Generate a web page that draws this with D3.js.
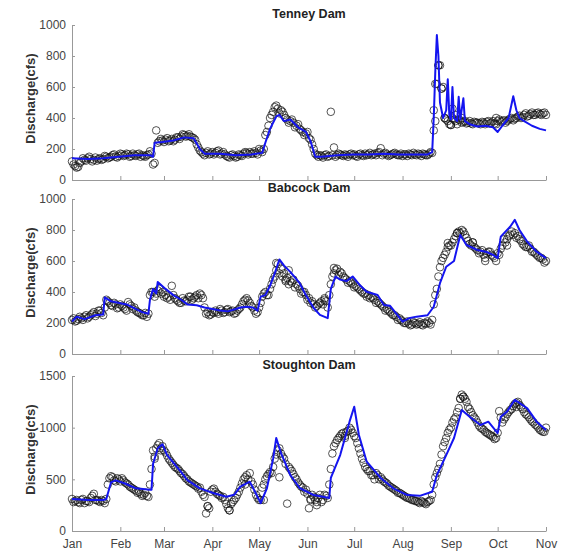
<!DOCTYPE html>
<html>
<head>
<meta charset="utf-8">
<script src="https://cdn.jsdelivr.net/npm/d3@7"></script>
<style>
  body { margin: 0; background: #fff; }
  svg { font-family: Arial, "Liberation Sans", sans-serif; }
  .axis path, .axis line { stroke: #999; }
  .axis text { fill: #444; font-size: 12px; }
</style>
</head>
<body>
<div id="chart"></div>
<script>
// observed discharge: even days (0,2,4..) and odd days (1,3,5..) from Jan 1
const tenneyObs = [120,90,85,120,130,140,135,130,125,140,135,150,145,160,150,155,165,160,165,155,160,165,150,155,160,185,100,320,250,255,260,250,265,260,275,280,290,285,280,270,230,190,170,175,165,180,175,190,170,165,150,160,155,150,160,170,175,180,170,175,200,180,290,350,420,470,460,450,420,390,380,370,350,330,310,300,270,230,170,150,155,160,150,440,210,160,165,155,160,165,160,155,165,160,170,165,160,170,175,205,170,165,160,170,165,160,155,165,170,160,165,170,155,165,160,180,320,620,740,600,390,360,400,380,390,370,380,370,365,375,370,360,370,375,365,380,360,390,380,370,390,400,395,410,400,420,410,425,420,430,425,430,420]
const tenneyObsOdd = [100,80,110,140,125,150,120,145,135,130,
  155,140,150,165,145,170,155,170,150,170,
  155,170,160,150,165,170,110,240,265,245,
  270,255,250,275,265,295,280,295,275,260,
  210,180,160,185,170,165,185,165,180,155,
  145,165,145,165,155,180,165,170,185,165,
  190,200,310,400,440,480,430,440,400,370,
  390,340,360,320,290,310,260,200,160,160,
  145,165,155,160,150,170,160,165,150,170,
  165,150,170,155,160,175,165,160,180,160,
  175,155,165,175,160,170,165,155,165,175,
  160,165,170,160,170,175,380,740,590,400,
  380,355,390,360,385,375,365,380,360,370,
  365,375,360,380,370,365,380,375,385,380,
  395,385,400,415,405,430,415,435,420,435,
  420,435]
const tenneyExtra = [[232,450],[233,620],[235,740],[237,590],[239,400],[243,355],[244,460],[246,420],[250,400],[272,400]]
const tenneySim = [[0,140],[10,135],[20,140],[30,150],[40,160],[50,160],[52,150],[53,240],[58,245],[65,255],[72,275],[78,270],[82,200],[85,170],[95,170],[105,160],[115,165],[122,175],[124,240],[127,330],[131,410],[133,420],[136,380],[140,390],[145,340],[150,310],[153,250],[156,150],[160,150],[170,160],[180,165],[190,165],[200,170],[210,165],[220,165],[228,165],[231,180],[232,400],[233,700],[234,935],[235,800],[236,500],[238,400],[240,450],[241,650],[242,420],[243,390],[244,600],[245,400],[247,380],[248,537],[249,390],[251,527],[252,380],[255,360],[260,345],[265,350],[270,340],[273,310],[276,350],[280,400],[283,540],[285,450],[287,400],[290,380],[295,350],[300,330],[304,320]]

const babcockObs = [220,210,225,230,240,230,250,270,260,280,250,350,330,310,320,300,310,290,335,310,300,270,260,250,240,380,400,390,420,400,380,370,440,360,340,330,345,350,370,360,380,390,360,260,250,270,280,260,280,270,290,275,260,280,300,340,360,330,300,260,300,370,400,380,450,500,580,550,520,490,470,480,450,420,400,380,360,340,300,320,340,360,300,450,520,550,530,500,480,470,450,440,420,400,390,380,370,350,340,320,300,290,270,250,240,230,210,200,195,190,200,195,190,200,210,190,320,420,560,620,660,700,720,760,790,800,770,730,700,690,670,660,640,650,660,630,600,640,700,720,760,790,780,760,730,700,690,680,660,640,620,610,600]
const babcockObsOdd = [230,215,240,220,250,240,260,245,280,265,
  300,340,315,330,295,320,300,280,320,290,
  280,265,250,265,260,400,370,410,390,370,
  360,350,380,350,330,360,340,370,350,370,
  360,380,300,270,255,265,270,290,265,285,
  270,280,265,290,320,350,345,310,280,270,
  330,390,380,420,480,540,520,500,470,450,
  460,430,440,390,400,350,330,320,310,330,
  320,340,380,500,540,510,520,490,460,460,
  430,430,410,390,370,360,360,330,330,310,
  280,280,260,250,220,220,200,210,185,205,
  190,205,185,195,200,220,380,500,600,640,
  690,700,740,780,780,790,750,710,720,680,
  650,670,620,660,640,620,650,680,740,740,
  770,770,750,740,710,690,700,660,650,630,
  620,590]
const babcockExtra = [[131,587],[137,480],[139,540],[162,350],[168,555],[241,716],[247,780],[257,720],[265,600],[279,700]]
const babcockSim = [[0,210],[3,240],[8,225],[15,250],[20,255],[21,365],[25,340],[35,320],[45,270],[49,260],[50,350],[52,420],[54,390],[55,465],[60,420],[65,380],[70,350],[74,320],[80,315],[85,300],[90,290],[95,280],[100,275],[105,290],[108,300],[112,305],[116,300],[119,280],[121,370],[124,380],[127,440],[130,520],[133,610],[136,570],[140,530],[146,457],[150,380],[155,297],[159,252],[164,231],[166,420],[169,499],[172,480],[176,470],[180,500],[185,440],[189,402],[196,381],[200,316],[204,311],[208,260],[212,209],[216,230],[221,241],[228,250],[232,305],[236,457],[240,563],[245,600],[249,768],[253,703],[260,671],[266,658],[270,639],[273,619],[275,757],[281,821],[284,865],[287,800],[292,724],[298,660],[304,619]]

const stoughtonObs = [310,290,280,300,270,290,320,360,300,280,290,310,510,520,480,500,510,470,450,420,400,370,360,350,340,450,780,800,850,820,760,700,660,620,600,560,530,500,470,450,430,420,350,170,220,400,380,350,320,300,220,260,300,350,420,500,540,560,450,350,300,420,500,550,560,700,780,750,700,265,600,550,500,450,420,400,220,350,300,320,280,350,320,600,820,880,920,950,960,1000,950,900,800,700,620,580,540,500,540,520,480,460,430,410,390,370,350,330,320,300,290,280,290,270,280,300,450,560,650,820,900,980,1050,1100,1190,1320,1280,1200,1150,1100,1050,1000,980,950,930,910,900,1160,1050,1100,1150,1180,1230,1250,1200,1150,1120,1080,1050,1020,980,960,1000]
const stoughtonObsOdd = [280,300,270,310,290,280,340,300,290,300,
  270,450,530,490,510,480,490,460,430,410,
  390,380,340,370,330,600,720,830,800,780,
  730,680,640,610,580,550,510,480,460,440,
  410,380,330,240,380,410,360,340,330,260,
  200,280,320,380,460,520,500,480,400,320,
  300,450,530,570,620,740,800,720,650,620,
  580,520,470,430,380,360,310,330,280,350,
  300,340,450,750,850,900,940,920,970,980,
  920,850,750,660,600,580,540,560,500,500,
  470,440,420,400,370,360,340,320,310,300,
  290,270,280,260,290,350,520,600,740,860,
  950,1000,1080,1150,1280,1300,1250,1180,1120,1080,
  1020,990,960,940,920,890,950,1100,1080,1130,
  1170,1210,1240,1220,1180,1130,1100,1060,1030,1000,
  970,960]
const stoughtonExtra = [[53,700],[57,780],[87,240],[101,200],[111,450],[123,300],[133,520],[153,300],[157,250],[175,900],[249,1280],[251,1300],[285,1200]]
const stoughtonSim = [[0,310],[10,300],[20,300],[22,310],[25,470],[28,490],[34,460],[41,413],[50,400],[51,400],[52,650],[55,800],[58,840],[61,735],[69,590],[74,493],[82,413],[91,365],[99,332],[104,350],[108,429],[114,477],[116,420],[121,271],[125,413],[129,700],[131,900],[134,755],[140,542],[146,416],[155,348],[165,319],[166,513],[172,735],[178,1058],[181,1203],[184,929],[189,671],[198,513],[206,413],[215,348],[223,340],[231,380],[234,542],[240,735],[245,900],[250,1171],[255,1106],[262,1026],[267,1058],[273,948],[275,1106],[279,1155],[284,1270],[292,1187],[298,1058],[304,977]]

const titles = ['Tenney Dam', 'Babcock Dam', 'Stoughton Dam']
const yMax = [1000, 1000, 1500]
const yTicks = [[0,200,400,600,800,1000],[0,200,400,600,800,1000],[0,500,1000,1500]]

const width = 569
const height = 551
const left = 72
const right = 546
const panels = [
  { top: 25, bottom: 180, obs: tenneyObs, odd: tenneyObsOdd, extra: tenneyExtra, sim: tenneySim },
  { top: 199, bottom: 354, obs: babcockObs, odd: babcockObsOdd, extra: babcockExtra, sim: babcockSim },
  { top: 376, bottom: 531, obs: stoughtonObs, odd: stoughtonObsOdd, extra: stoughtonExtra, sim: stoughtonSim }
]

const dayToDate = d => new Date(2014, 0, 1 + d)

const svg = d3.select('#chart')
  .append('svg')
  .attr('width', width)
  .attr('height', height)

const x = d3.scaleTime()
  .domain([new Date(2014, 0, 1), new Date(2014, 10, 1)])
  .range([left, right])

panels.forEach((p, k) => {
  const y = d3.scaleLinear()
    .domain([0, yMax[k]])
    .range([p.bottom, p.top])

  const g = svg.append('g')

  const xAxis = g.append('g')
    .classed('axis', true)
    .attr('transform', `translate(0,${p.bottom})`)
    .call(d3.axisBottom(x)
      .ticks(d3.timeMonth.every(1))
      .tickFormat(d3.timeFormat('%b'))
      .tickSizeInner(-4)
      .tickSizeOuter(0)
      .tickPadding(8))
  if (k < 2) xAxis.selectAll('text').remove()

  g.append('g')
    .classed('axis', true)
    .attr('transform', `translate(${left},0)`)
    .call(d3.axisLeft(y)
      .tickValues(yTicks[k])
      .tickFormat(d3.format('d'))
      .tickSizeInner(-3)
      .tickSizeOuter(0)
      .tickPadding(6))

  g.append('text')
    .attr('x', (left + right) / 2)
    .attr('y', p.top - 7)
    .attr('text-anchor', 'middle')
    .style('font-weight', 'bold')
    .style('font-size', '12.5px')
    .style('fill', '#222')
    .text(titles[k])

  g.append('text')
    .attr('transform', `translate(30,${(p.top + p.bottom) / 2 - 4}) rotate(-90)`)
    .attr('dy', '0.35em')
    .attr('text-anchor', 'middle')
    .style('font-weight', 'bold')
    .style('font-size', '13px')
    .style('fill', '#333')
    .text('Discharge(cfs)')

  const pts = p.obs.map((v, i) => [i * 2, v])
    .concat(p.odd.map((v, i) => [i * 2 + 1, v]))
    .concat(p.extra)

  g.append('g')
    .selectAll('circle')
    .data(pts)
    .enter()
    .append('circle')
    .attr('cx', d => x(dayToDate(d[0])))
    .attr('cy', d => y(d[1]))
    .attr('r', 3.8)
    .style('fill', 'none')
    .style('stroke', '#111')
    .style('stroke-width', 0.9)
    .style('opacity', 0.8)

  const line = d3.line()
    .x(d => x(dayToDate(d[0])))
    .y(d => y(d[1]))

  g.append('path')
    .datum(p.sim)
    .attr('d', line)
    .style('fill', 'none')
    .style('stroke', '#1414f0')
    .style('stroke-width', 2)
    .style('stroke-linejoin', 'round')
})
</script>
</body>
</html>
